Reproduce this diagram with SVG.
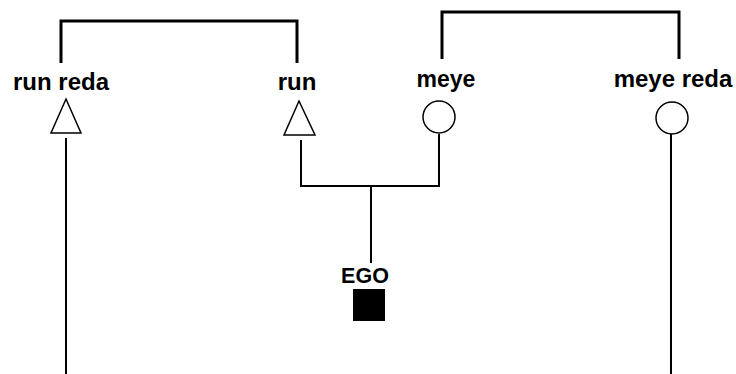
<svg xmlns="http://www.w3.org/2000/svg" width="736" height="374" viewBox="0 0 736 374">
<style>
.lbl{font-family:"Liberation Sans",Arial,sans-serif;font-weight:bold;font-size:24px;fill:#000;text-anchor:middle}
.br{fill:none;stroke:#000;stroke-width:3}
.ln{fill:none;stroke:#000;stroke-width:2}
.sym{fill:#fff;stroke:#000;stroke-width:1.5}
</style>
<rect width="736" height="374" fill="#fff"/>
<g id="connectors">
<path class="br" d="M61,63 V21 H297 V63"/>
<path class="br" d="M442,59 V12 H679 V59"/>
<path class="ln" d="M66,138 V374"/>
<path class="ln" d="M301,140 V186 H439 V134"/>
<path class="ln" d="M371,186 V263"/>
<path class="ln" d="M671,134 V374"/>
</g>
<g id="run-reda">
<text class="lbl" x="61" y="90">run reda</text>
<polygon class="sym" points="66,99 81,133 51,133"/>
</g>
<g id="run">
<text class="lbl" x="297" y="90">run</text>
<polygon class="sym" points="299,101 315,135 284,135"/>
</g>
<g id="meye">
<text class="lbl" x="446" y="87" style="font-size:23px">meye</text>
<circle class="sym" cx="439" cy="117" r="16"/>
</g>
<g id="meye-reda">
<text class="lbl" x="673" y="87">meye reda</text>
<circle class="sym" cx="672" cy="118" r="16"/>
</g>
<g id="ego">
<text class="lbl" x="365" y="282.5" style="font-size:21.5px">EGO</text>
<rect x="353" y="289" width="32" height="32" fill="#000"/>
</g>
</svg>
